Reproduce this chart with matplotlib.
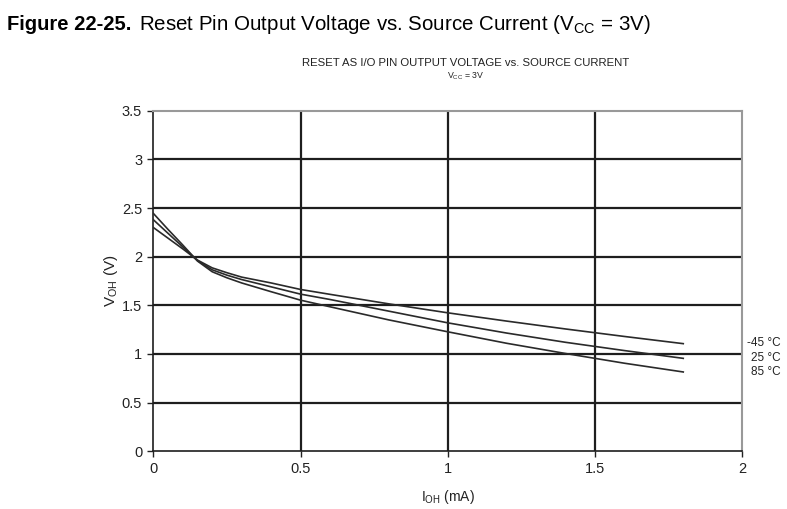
import matplotlib.pyplot as plt
import numpy as np

plt.rcParams['font.family'] = ['Liberation Sans', 'DejaVu Sans']

# source current (mA)
ioh = [0, 0.05, 0.1, 0.15, 0.2, 0.25, 0.3, 0.4, 0.5, 0.6, 0.8, 1.0, 1.2, 1.4, 1.6, 1.8]
# output voltage (V) per temperature
voh_m45 = [2.30, 2.19, 2.08, 1.965, 1.885, 1.835, 1.79, 1.73, 1.663, 1.613, 1.515, 1.423, 1.338, 1.257, 1.18, 1.106]
voh_25 = [2.38, 2.24, 2.10, 1.96, 1.865, 1.81, 1.765, 1.69, 1.615, 1.56, 1.44, 1.32, 1.215, 1.12, 1.035, 0.955]
voh_85 = [2.445, 2.28, 2.12, 1.955, 1.845, 1.783, 1.73, 1.64, 1.553, 1.485, 1.35, 1.228, 1.11, 1.005, 0.905, 0.815]
labels = ['-45 °C', '25 °C', '85 °C']

xticks = [0, 0.5, 1, 1.5, 2]
xticklabels = ['0', '0.5', '1', '1.5', '2']
yticks = [0, 0.5, 1, 1.5, 2, 2.5, 3, 3.5]
yticklabels = ['0', '0.5', '1', '1.5', '2', '2.5', '3', '3.5']

fig = plt.figure(figsize=(7.87, 5.09), dpi=100)
ax = fig.add_axes([0.1948, 0.1134, 0.943 - 0.1948, 0.7825 - 0.1134])

for x in [0.5, 1, 1.5]:
    ax.axvline(x, color='#1e1e1e', lw=1.6, zorder=1)
for y in [0.5, 1, 1.5, 2, 2.5, 3]:
    ax.axhline(y, color='#1e1e1e', lw=1.6, zorder=1)

for v in [voh_m45, voh_25, voh_85]:
    ax.plot(ioh, v, color='#2a2a2a', lw=1.2, zorder=3)

ax.set_xlim(0, 2)
ax.set_ylim(0, 3.5)
ax.set_xticks(xticks)
ax.set_xticklabels(xticklabels)
ax.set_yticks(yticks)
ax.set_yticklabels(yticklabels)
ax.tick_params(direction='out', length=4, width=1, colors='#222222', labelsize=10.5, pad=4)
for s in ['left', 'bottom']:
    ax.spines[s].set_color('#1e1e1e')
    ax.spines[s].set_linewidth(1.2)
for s in ['top', 'right']:
    ax.spines[s].set_color('#999999')
    ax.spines[s].set_linewidth(1.5)

ax.set_xlabel('I$_{\\mathregular{OH}}$ (mA)', fontsize=10, color='#222222', labelpad=8)
ax.set_ylabel('V$_{\\mathregular{OH}}$ (V)', fontsize=11, color='#222222', labelpad=1)

# temperature labels right of the plot
ly = [343, 358, 372]
for lab, yy in zip(labels, ly):
    fig.text(781 / 787, 1 - yy / 509, lab, ha='right', va='center', fontsize=8.5, color='#222222')

fig.text(7 / 787, 1 - 25 / 509, 'Figure 22-25.', fontsize=14.5, fontweight='bold', ha='left', va='center')
fig.text(139 / 787, 1 - 25 / 509, 'Reset Pin Output Voltage vs. Source Current (V$_{\\mathregular{CC}}$ = 3V)',
         fontsize=14.8, ha='left', va='center')
fig.text(466 / 787, 1 - 63 / 509, 'RESET AS I/O PIN OUTPUT VOLTAGE vs. SOURCE CURRENT',
         fontsize=8.2, ha='center', va='center', color='#222222')
fig.text(466 / 787, 1 - 76 / 509, 'V$_{\\mathregular{CC}}$ = 3V', fontsize=6.3, ha='center', va='center',
         color='#222222')

fig.savefig('out.png', dpi=100)
